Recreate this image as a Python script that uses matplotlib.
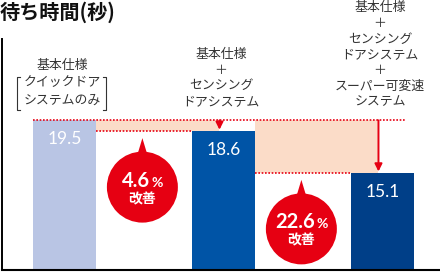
import matplotlib
matplotlib.use('Agg')
import matplotlib.pyplot as plt
import matplotlib.transforms as mtransforms
from matplotlib.patches import Circle, Polygon, Rectangle
from matplotlib.lines import Line2D

plt.rcParams['font.family'] = ['Noto Sans CJK JP', 'DejaVu Sans']

# ---- data ----
title = '待ち時間(秒)'
label_lines = [
    ['基本仕様', 'クイックドア', 'システムのみ'],
    ['基本仕様', '＋', 'センシング', 'ドアシステム'],
    ['基本仕様', '＋', 'センシング', 'ドアシステム', '＋', 'スーパー可変速', 'システム'],
]
wait_seconds = [19.5, 18.6, 15.1]
value_labels = ['19.5', '18.6', '15.1']
improvement_pct = ['4.6', '22.6']
improvement_word = '改善'

# ---- style ----
bar_colors = ['#b9c5e4', '#0054a6', '#003f88']
red = '#e60012'
shade = '#fbdcc8'
text_gray = '#333333'

W, H, DPI = 440, 272, 100
fig = plt.figure(figsize=(W / DPI, H / DPI), dpi=DPI)
fig.patch.set_facecolor('white')
ax = fig.add_axes([2 / W, 2 / H, 438 / W, 231 / H])

x = list(range(len(wait_seconds)))
bw = 0.40
ax.bar(x, wait_seconds, width=bw, color=bar_colors, zorder=2)
ax.set_xlim(-0.393, 2.362)
ax.set_ylim(6.96, 26.32)
for s in ['top', 'right']:
    ax.spines[s].set_visible(False)
ax.spines['left'].set_linewidth(1.4)
ax.spines['bottom'].set_linewidth(1.5)
ax.set_xticks([])
ax.set_yticks([])

v1 = wait_seconds[0]
arrow_dx = -0.025
# shaded gaps, dotted lines, arrows
for i in (1, 2):
    vi = wait_seconds[i]
    left_edge = x[i - 1] + bw / 2
    ax_x = x[i] + arrow_dx
    ax.add_patch(Rectangle((left_edge, vi), ax_x - left_edge, v1 - vi,
                           facecolor=shade, edgecolor='none', zorder=1))
    ax.hlines(vi, left_edge, x[i] - bw / 2, colors=red, linewidth=1.2,
              linestyles=(0, (1, 1)), zorder=3)
    ax.annotate('', xy=(ax_x, vi), xytext=(ax_x, v1),
                arrowprops=dict(arrowstyle='-|>', color=red, lw=1.4,
                                mutation_scale=11, shrinkA=0, shrinkB=1),
                zorder=4)
ax.hlines(v1, x[0] - bw / 2, x[2] + 0.15, colors=red, linewidth=1.2,
          linestyles=(0, (1, 1)), zorder=3)

# value labels inside bars
for xi, v, t in zip(x, wait_seconds, value_labels):
    ax.annotate(t, xy=(xi, v), xytext=(0, -19), textcoords='offset pixels',
                ha='center', va='center', color='white', fontsize=12.5,
                family=['Lato', 'DejaVu Sans'], weight='normal', zorder=5)

# category labels above bars
xa = ax.get_xaxis_transform()
def top_anchor(xd):
    return fig.dpi_scale_trans + mtransforms.ScaledTranslation(xd, 1, xa)

bottom_px = [100, 101.5, 101.5]
spacing_px = [17.5, 15.6, 15.6]
for xi, lines, bpx, sp in zip(x, label_lines, bottom_px, spacing_px):
    tr = top_anchor(xi)
    n = len(lines)
    for k, line in enumerate(lines):
        ypx = bpx - (n - 1 - k) * sp
        fig.text(-0.025, -(ypx - 39) / 100, line, transform=tr, ha='center',
                 va='center', fontsize=9.3, color=text_gray)

# bracket around bar-1 sub label
tr0 = top_anchor(x[0])
yt, yb = -(77 - 39) / 100, -(110 - 39) / 100
for xs, d in ((-0.47, 0.03), (0.42, -0.03)):
    fig.add_artist(Line2D([xs + d, xs, xs, xs + d], [yt, yt, yb, yb],
                          transform=tr0, color=text_gray, lw=0.8))

# red bubbles
fig.canvas.draw()
renderer = fig.canvas.get_renderer()
for i, pct in zip((1, 2), improvement_pct):
    xc = (x[i - 1] + x[i]) / 2 - 0.01
    tr = fig.dpi_scale_trans + mtransforms.ScaledTranslation(xc, wait_seconds[i], ax.transData)
    cy = -0.56
    fig.add_artist(Polygon([(-0.06, -0.27), (0, -0.07), (0.06, -0.27)],
                           closed=True, transform=tr, facecolor=red,
                           edgecolor='none', zorder=5))
    fig.add_artist(Circle((0, cy), 0.355, transform=tr, facecolor=red,
                          edgecolor='none', zorder=5))
    tn = fig.text(0, cy + 0.005, pct, transform=tr, ha='left', va='baseline',
                  color='white', fontsize=14.5, weight='bold',
                  family=['Lato', 'DejaVu Sans'], zorder=6)
    tp = fig.text(0, cy + 0.005, '%', transform=tr, ha='left', va='baseline',
                  color='white', fontsize=10, weight='bold',
                  family=['Lato', 'DejaVu Sans'], zorder=6)
    wn = tn.get_window_extent(renderer).width / DPI
    wp = tp.get_window_extent(renderer).width / DPI
    tot = wn + wp + 0.01
    tn.set_x(-tot / 2)
    tp.set_x(-tot / 2 + wn + 0.01)
    fig.text(0, cy - 0.12, improvement_word, transform=tr, ha='center',
             va='center', color='white', fontsize=10, weight='bold', zorder=6)

fig.text(0.0, 1 - 12 / H, title, ha='left', va='center', fontsize=14.5,
         weight='bold', color='#111111')

fig.savefig('out.png', dpi=DPI)
